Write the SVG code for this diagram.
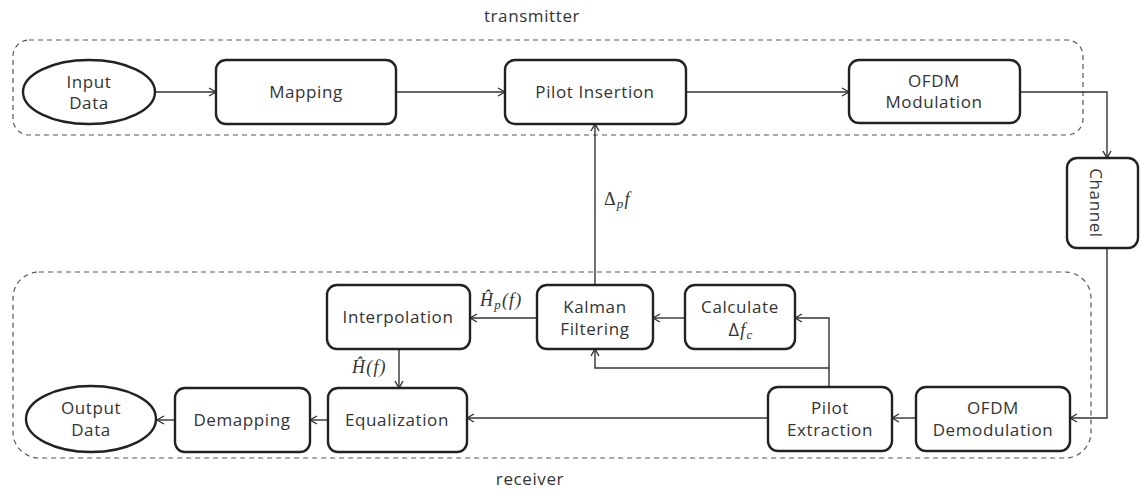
<svg xmlns="http://www.w3.org/2000/svg" width="1140" height="493" viewBox="0 0 1140 493">
  <defs>
    <style>
      .box { fill: #fff; stroke: #222; stroke-width: 2.4; }
      .group { fill: none; stroke: #555; stroke-width: 1.2; stroke-dasharray: 5 4; }
      .lbl { font-family: "Open Sans", "Liberation Sans", sans-serif; font-size: 17px; letter-spacing: 0.6px; fill: #333; text-anchor: middle; }
      .math { font-family: "Liberation Serif", "DejaVu Serif", serif; font-style: italic; font-size: 18px; letter-spacing: 1.2px; fill: #333; }
      .up { font-style: normal; }
      .wire { fill: none; stroke: #333; stroke-width: 1.4; }
    </style>
    <marker id="arr" markerWidth="10" markerHeight="10" refX="8" refY="5" orient="auto" markerUnits="userSpaceOnUse">
      <path d="M1,1 L8,5 L1,9" fill="none" stroke="#333" stroke-width="1.4"/>
    </marker>
  </defs>

  <!-- section frames -->
  <rect class="group" x="13" y="40" width="1070" height="95" rx="16"/>
  <rect class="group" x="13" y="272" width="1078" height="186" rx="26"/>
  <text class="lbl" x="532" y="22">transmitter</text>
  <text class="lbl" x="530" y="485">receiver</text>

  <!-- connectors -->
  <g id="connectors">
    <path class="wire" d="M155,92 H216" marker-end="url(#arr)"/>
    <path class="wire" d="M396,92 H505" marker-end="url(#arr)"/>
    <path class="wire" d="M686,92 H849" marker-end="url(#arr)"/>
    <path class="wire" d="M1020,92 H1107 V158" marker-end="url(#arr)"/>
    <path class="wire" d="M1107,248 V418 H1070" marker-end="url(#arr)"/>
    <path class="wire" d="M916,418 H892" marker-end="url(#arr)"/>
    <path class="wire" d="M768,418 H467" marker-end="url(#arr)"/>
    <path class="wire" d="M829,387 V318 H795" marker-end="url(#arr)"/>
    <path class="wire" d="M829,368 H595 V349" marker-end="url(#arr)"/>
    <path class="wire" d="M685,318 H653" marker-end="url(#arr)"/>
    <path class="wire" d="M537,318 H470" marker-end="url(#arr)"/>
    <path class="wire" d="M595,285 V124" marker-end="url(#arr)"/>
    <path class="wire" d="M399,349 V388" marker-end="url(#arr)"/>
    <path class="wire" d="M328,420 H310" marker-end="url(#arr)"/>
    <path class="wire" d="M175,420 H157" marker-end="url(#arr)"/>
    <text class="math" x="604" y="205"><tspan class="up">Δ</tspan><tspan font-size="13" dy="3">p</tspan><tspan dy="-3">f</tspan></text>
    <text class="math" x="480" y="306">Ĥ<tspan font-size="13" dy="3">p</tspan><tspan dy="-3">(f)</tspan></text>
    <text class="math" x="352" y="373">Ĥ(f)</text>
  </g>

  <!-- transmitter -->
  <g id="input-data">
    <ellipse class="box" cx="89" cy="92" rx="66" ry="32"/>
    <text class="lbl" x="89" y="88">Input</text>
    <text class="lbl" x="89" y="109">Data</text>
  </g>
  <g id="mapping">
    <rect class="box" x="216" y="60" width="180" height="64" rx="10"/>
    <text class="lbl" x="306" y="98">Mapping</text>
  </g>
  <g id="pilot-insertion">
    <rect class="box" x="505" y="60" width="181" height="64" rx="10"/>
    <text class="lbl" x="595" y="98">Pilot Insertion</text>
  </g>
  <g id="ofdm-modulation">
    <rect class="box" x="849" y="60" width="171" height="63" rx="10"/>
    <text class="lbl" x="934" y="87">OFDM</text>
    <text class="lbl" x="934" y="108">Modulation</text>
  </g>

  <!-- channel -->
  <g id="channel">
    <rect class="box" x="1067" y="158" width="71" height="90" rx="10"/>
    <text class="lbl" transform="translate(1096,203) rotate(90)" y="6">Channel</text>
  </g>

  <!-- receiver -->
  <g id="interpolation">
    <rect class="box" x="327" y="285" width="143" height="64" rx="10"/>
    <text class="lbl" x="398" y="323">Interpolation</text>
  </g>
  <g id="kalman-filtering">
    <rect class="box" x="537" y="285" width="116" height="64" rx="10"/>
    <text class="lbl" x="595" y="313">Kalman</text>
    <text class="lbl" x="595" y="335">Filtering</text>
  </g>
  <g id="calculate-df">
    <rect class="box" x="685" y="285" width="110" height="64" rx="10"/>
    <text class="lbl" x="740" y="313">Calculate</text>
    <text class="math" x="741" y="336" text-anchor="middle"><tspan class="up" font-family="Open Sans, sans-serif">Δ</tspan><tspan>f</tspan><tspan font-size="13" dy="3">c</tspan></text>
  </g>
  <g id="output-data">
    <ellipse class="box" cx="91" cy="419" rx="65" ry="33"/>
    <text class="lbl" x="91" y="414">Output</text>
    <text class="lbl" x="91" y="436">Data</text>
  </g>
  <g id="demapping">
    <rect class="box" x="175" y="388" width="135" height="64" rx="10"/>
    <text class="lbl" x="242" y="426">Demapping</text>
  </g>
  <g id="equalization">
    <rect class="box" x="328" y="388" width="139" height="64" rx="10"/>
    <text class="lbl" x="397" y="426">Equalization</text>
  </g>
  <g id="pilot-extraction">
    <rect class="box" x="768" y="387" width="124" height="64" rx="10"/>
    <text class="lbl" x="830" y="414">Pilot</text>
    <text class="lbl" x="830" y="436">Extraction</text>
  </g>
  <g id="ofdm-demodulation">
    <rect class="box" x="916" y="387" width="154" height="64" rx="10"/>
    <text class="lbl" x="993" y="414">OFDM</text>
    <text class="lbl" x="993" y="436">Demodulation</text>
  </g>
</svg>
